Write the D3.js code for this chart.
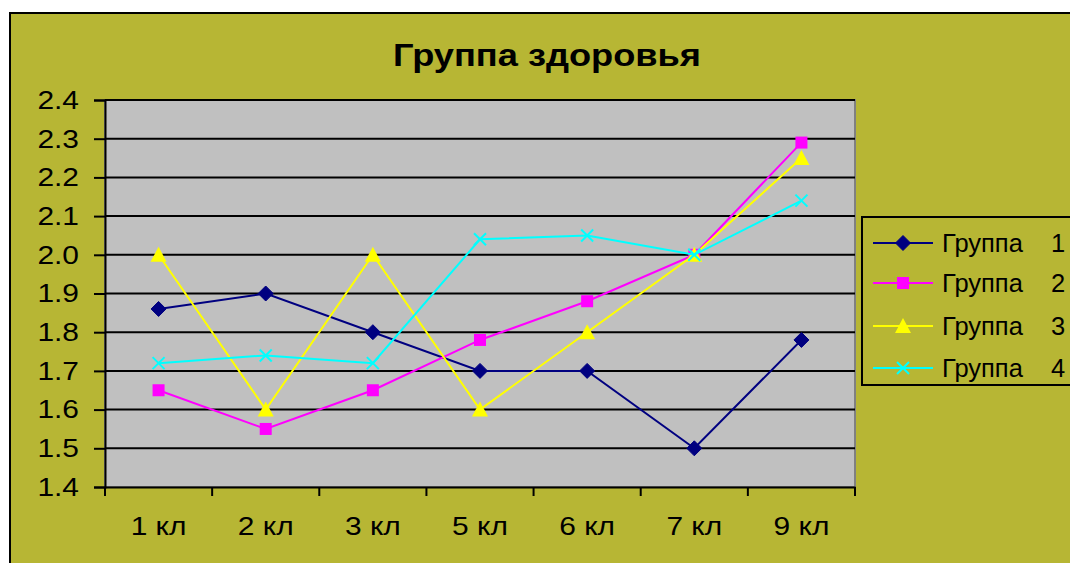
<!DOCTYPE html>
<html>
<head>
<meta charset="utf-8">
<script src="https://cdn.jsdelivr.net/npm/d3@7"></script>
<style>
  html, body { margin: 0; padding: 0; background: #ffffff; }
  svg { display: block; font-family: "Liberation Sans", Arial, sans-serif; }
</style>
</head>
<body>
<svg id="chart" width="1070" height="563"></svg>
<script>
// Classes and average health group per series
const categories = ["1 кл", "2 кл", "3 кл", "5 кл", "6 кл", "7 кл", "9 кл"];
const group1 = [1.86, 1.90, 1.80, 1.70, 1.70, 1.50, 1.78];
const group2 = [1.65, 1.55, 1.65, 1.78, 1.88, 2.00, 2.29];
const group3 = [2.00, 1.60, 2.00, 1.60, 1.80, 2.00, 2.25];
const group4 = [1.72, 1.74, 1.72, 2.04, 2.05, 2.00, 2.14];
const seriesNames = ["Группа 1", "Группа 2", "Группа 3", "Группа 4"];
const yTicks = [1.4, 1.5, 1.6, 1.7, 1.8, 1.9, 2.0, 2.1, 2.2, 2.3, 2.4];
const title = "Группа здоровья";

const series = [
  { name: seriesNames[0], values: group1, color: "#000080", marker: "diamond" },
  { name: seriesNames[1], values: group2, color: "#FF00FF", marker: "square" },
  { name: seriesNames[2], values: group3, color: "#FFFF00", marker: "triangle" },
  { name: seriesNames[3], values: group4, color: "#00FFFF", marker: "cross" }
];

const svg = d3.select("#chart");
const W = 1070, H = 563;
const plot = { left: 105, top: 100, right: 855, bottom: 487 };
const STRETCH = 1.15; // wide text rendering of the chart labels

// Widen a text selection horizontally while keeping its anchor
function widen(sel, k) {
  sel.each(function () {
    const w = this.getComputedTextLength();
    d3.select(this).attr("textLength", w * k).attr("lengthAdjust", "spacingAndGlyphs");
  });
}

// Chart area background with frame
svg.append("rect")
  .attr("x", 10).attr("y", 13).attr("width", W + 10).attr("height", H + 10)
  .attr("fill", "#B7B634").attr("stroke", "#000").attr("stroke-width", 2);

// Title
svg.append("text")
  .attr("x", 547).attr("y", 66)
  .attr("text-anchor", "middle")
  .attr("font-size", 31.5).attr("font-weight", "bold")
  .attr("fill", "#000")
  .text(title)
  .call(widen, STRETCH);

const x = d3.scaleBand().domain(categories).range([plot.left, plot.right]).padding(0);
const y = d3.scaleLinear().domain([1.4, 2.4]).range([plot.bottom, plot.top]);

// Plot area
svg.append("rect")
  .attr("x", plot.left).attr("y", plot.top)
  .attr("width", plot.right - plot.left).attr("height", plot.bottom - plot.top)
  .attr("fill", "#C0C0C0").attr("stroke", "#808080").attr("stroke-width", 2);

// Horizontal gridlines
svg.append("g")
  .selectAll("line")
  .data(yTicks.filter(v => v > 1.4))
  .join("line")
  .attr("x1", plot.left).attr("x2", plot.right)
  .attr("y1", d => y(d)).attr("y2", d => y(d))
  .attr("stroke", "#000").attr("stroke-width", 2);

// Y axis
const yAxis = svg.append("g")
  .attr("transform", `translate(${plot.left},0)`)
  .call(d3.axisLeft(y).tickValues(yTicks).tickFormat(d3.format(".1f")).tickSize(11).tickPadding(15));
yAxis.select(".domain").attr("stroke", "#000").attr("stroke-width", 2);
yAxis.selectAll(".tick line").attr("stroke", "#000").attr("stroke-width", 2);
yAxis.selectAll(".tick text").attr("font-size", 26).attr("fill", "#000")
  .attr("font-family", "Liberation Sans, Arial, sans-serif")
  .call(widen, STRETCH);

// X axis: labels centered in bands, ticks at band edges
const xAxis = svg.append("g")
  .attr("transform", `translate(0,${plot.bottom})`)
  .call(d3.axisBottom(x).tickSize(0).tickPadding(30));
xAxis.select(".domain").attr("stroke", "#000").attr("stroke-width", 2);
xAxis.selectAll(".tick text").attr("font-size", 26).attr("fill", "#000")
  .attr("font-family", "Liberation Sans, Arial, sans-serif")
  .call(widen, STRETCH);
const edges = categories.map(c => x(c)).concat([plot.right]);
xAxis.append("g")
  .selectAll("line")
  .data(edges)
  .join("line")
  .attr("x1", d => d).attr("x2", d => d)
  .attr("y1", 0).attr("y2", 9)
  .attr("stroke", "#000").attr("stroke-width", 2);

// Marker drawing
function drawMarker(g, type, color, cx, cy) {
  if (type === "diamond") {
    g.append("path")
      .attr("d", `M${cx},${cy - 7.5}L${cx + 7.5},${cy}L${cx},${cy + 7.5}L${cx - 7.5},${cy}Z`)
      .attr("fill", color).attr("stroke", color).attr("stroke-width", 1);
  } else if (type === "square") {
    g.append("rect")
      .attr("x", cx - 6).attr("y", cy - 6).attr("width", 12).attr("height", 12)
      .attr("fill", color);
  } else if (type === "triangle") {
    g.append("path")
      .attr("d", `M${cx},${cy - 8}L${cx + 8},${cy + 7}L${cx - 8},${cy + 7}Z`)
      .attr("fill", color);
  } else if (type === "cross") {
    g.append("path")
      .attr("d", `M${cx - 6},${cy - 6}L${cx + 6},${cy + 6}M${cx - 6},${cy + 6}L${cx + 6},${cy - 6}`)
      .attr("stroke", color).attr("stroke-width", 2).attr("fill", "none");
  }
}

const line = d3.line()
  .x((d, i) => x(categories[i]) + x.bandwidth() / 2)
  .y(d => y(d));

series.forEach(s => {
  const g = svg.append("g");
  g.append("path")
    .attr("d", line(s.values))
    .attr("fill", "none").attr("stroke", s.color).attr("stroke-width", 2);
  s.values.forEach((v, i) => {
    drawMarker(g, s.marker, s.color, x(categories[i]) + x.bandwidth() / 2, y(v));
  });
});

// Legend
const legend = svg.append("g");
legend.append("rect")
  .attr("x", 862).attr("y", 217).attr("width", 240).attr("height", 168)
  .attr("fill", "#B7B634").attr("stroke", "#000").attr("stroke-width", 2);
const rowY = [243, 283, 326, 368];
series.forEach((s, i) => {
  const ly = rowY[i];
  legend.append("line")
    .attr("x1", 873).attr("x2", 933).attr("y1", ly).attr("y2", ly)
    .attr("stroke", s.color).attr("stroke-width", 2);
  drawMarker(legend, s.marker, s.color, 903, ly);
  const parts = s.name.split(" ");
  const t = legend.append("text")
    .attr("y", ly + 9)
    .attr("font-size", 25.5).attr("fill", "#000");
  t.append("tspan").attr("x", 942).text(parts[0] + " ");
  t.append("tspan").attr("x", 1051).text(parts[1]);
});
</script>
</body>
</html>
